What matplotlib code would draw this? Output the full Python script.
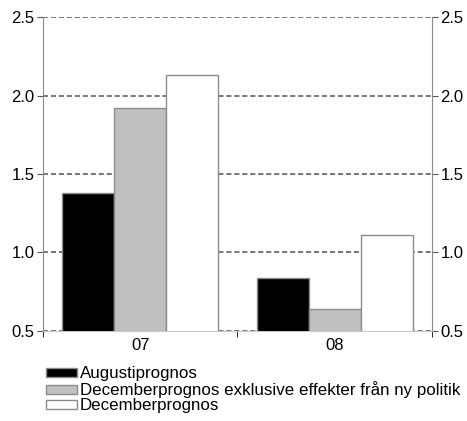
import matplotlib.pyplot as plt
import numpy as np

plt.rcParams['font.family'] = ['Liberation Sans', 'DejaVu Sans']

# data
kategorier = ['07', '08']
augusti = [1.38, 0.84]
dec_exkl = [1.92, 0.64]
december = [2.13, 1.11]
etiketter = ['Augustiprognos',
             'Decemberprognos exklusive effekter från ny politik',
             'Decemberprognos']

fig = plt.figure(figsize=(4.67, 4.21), dpi=100)
ax = fig.add_axes([0.092, 0.2138, 0.833, 0.7458])

x = np.arange(len(kategorier))
w = 0.267
kant = '#8c8c8c'
b1 = ax.bar(x - w, augusti, w, color='black', edgecolor=kant, lw=1, zorder=3)
b2 = ax.bar(x, dec_exkl, w, color='#c0c0c0', edgecolor=kant, lw=1, zorder=3)
b3 = ax.bar(x + w, december, w, color='white', edgecolor=kant, lw=1, zorder=3)

ax.set_ylim(0.5, 2.5)
ax.set_xlim(-0.5, 1.5)
ax.set_yticks([0.5, 1.0, 1.5, 2.0, 2.5])
ax.set_yticklabels(['0.5', '1.0', '1.5', '2.0', '2.5'])
ax.yaxis.grid(True, color='#767676', linestyle=(0, (2.6, 1.5)), lw=1.4, zorder=1)
ax.set_axisbelow(True)

ax.set_xticks(x)
ax.set_xticklabels(kategorier)
ax.set_xticks([-0.5, 0.5, 1.5], minor=True)
ax.tick_params(axis='x', which='major', length=0, labelsize=12, pad=5)
ax.tick_params(axis='x', which='minor', length=4, color='black', direction='out')
ax.tick_params(axis='y', left=True, right=True, labelleft=True, labelright=True,
               direction='out', length=4, color='#555555', labelsize=12, pad=2)

for s in ['left', 'right']:
    ax.spines[s].set_color('#8c8c8c')
ax.spines['top'].set_visible(False)
ax.spines['bottom'].set_color('#c8c8c8')

fig.legend([b1, b2, b3], etiketter, loc='upper left', bbox_to_anchor=(0.098, 0.13),
           frameon=False, fontsize=12.2, handlelength=1.85, handleheight=0.45,
           handletextpad=0.15, labelspacing=0.0, borderaxespad=0, borderpad=0)

fig.savefig('out.png', dpi=100)
